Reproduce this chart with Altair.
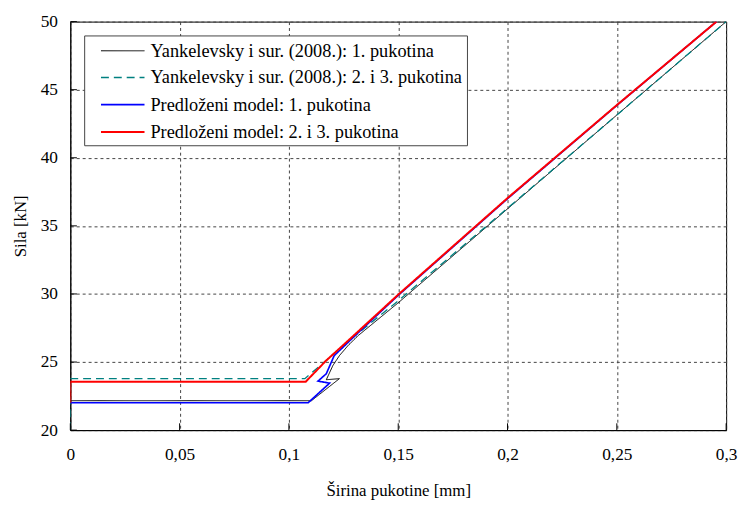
import altair as alt
import pandas as pd

# ---- data ----
series_names = [
    "Yankelevsky i sur. (2008.): 1. pukotina",
    "Yankelevsky i sur. (2008.): 2. i 3. pukotina",
    "Predloženi model: 1. pukotina",
    "Predloženi model: 2. i 3. pukotina",
]
series_colors = ["#000000", "#008080", "#0000ff", "#ff0000"]

black_x = [0, 0.1103, 0.1231, 0.1171, 0.1201, 0.1231, 0.127, 0.1315, 0.15, 0.2, 0.25, 0.3]
black_y = [22.16, 22.16, 23.78, 23.70, 24.74, 25.47, 26.2, 26.92, 29.35, 36.25, 43.14, 50]

teal_x = [0, 0, 0.1073, 0.13, 0.15, 0.2, 0.25, 0.3]
teal_y = [20, 23.78, 23.78, 26.9, 29.5, 36.3, 43.14, 50]

blue_x = [0, 0.1088, 0.1186, 0.1133, 0.1171, 0.1207, 0.13, 0.15, 0.2, 0.25, 0.2956]
blue_y = [22.01, 22.01, 23.45, 23.6, 24.14, 25.47, 26.9, 29.9, 37.0, 43.85, 50]

red_x = [0, 0, 0.1077, 0.117, 0.13, 0.15, 0.2, 0.25, 0.2956]
red_y = [22.01, 23.56, 23.56, 25.1, 27.0, 29.95, 37.04, 43.87, 50]

x_ticks = [0, 0.05, 0.1, 0.15, 0.2, 0.25, 0.3]
y_ticks = [20, 25, 30, 35, 40, 45, 50]

rows = []
for name, xs, ys in zip(series_names, [black_x, teal_x, blue_x, red_x], [black_y, teal_y, blue_y, red_y]):
    for i, (xv, yv) in enumerate(zip(xs, ys)):
        rows.append({"serija": name, "w": xv, "F": yv, "idx": i})
df = pd.DataFrame(rows)

FONT = "Liberation Serif, Times New Roman, DejaVu Serif, serif"

xscale = alt.Scale(domain=[0, 0.3], nice=False, zero=False)
yscale = alt.Scale(domain=[20, 50], nice=False, zero=False)

lines = alt.Chart(df).mark_line(clip=True, strokeCap="butt").encode(
    x=alt.X("w:Q", scale=xscale, title="Širina pukotine [mm]",
            axis=alt.Axis(values=x_ticks, labelFont=FONT, titleFont=FONT,
                          labelExpr="replace(format(datum.value, '~g'), '.', ',')")),
    y=alt.Y("F:Q", scale=yscale, title="Sila [kN]",
            axis=alt.Axis(values=y_ticks, labelFont=FONT, titleFont=FONT)),
    color=alt.Color("serija:N", scale=alt.Scale(domain=series_names, range=series_colors),
                    legend=alt.Legend(title=None)),
    strokeDash=alt.StrokeDash("serija:N",
                              scale=alt.Scale(domain=series_names,
                                              range=[[1, 0], [8, 5], [1, 0], [1, 0]]),
                              legend=alt.Legend(title=None)),
    strokeWidth=alt.StrokeWidth("serija:N",
                                scale=alt.Scale(domain=series_names, range=[1, 2, 3, 3]),
                                legend=alt.Legend(title=None)),
    detail="serija:N",
    order="idx:Q",
)

xt = pd.DataFrame({"v": x_ticks})
yt = pd.DataFrame({"v": y_ticks})
xticks = alt.Chart(xt).mark_rule(color="black", strokeWidth=1).encode(
    x=alt.X("v:Q", scale=xscale), y=alt.datum(20), y2=alt.datum(20.5))
yticks = alt.Chart(yt).mark_rule(color="black", strokeWidth=1).encode(
    y=alt.Y("v:Q", scale=yscale), x=alt.datum(0), x2=alt.datum(0.003))

chart = alt.layer(lines, xticks, yticks).properties(
    width=663, height=413,
    autosize=alt.AutoSizeParams(type="none"),
    padding={"left": 63, "top": 11, "right": 12, "bottom": 78},
).configure(
    font=FONT
).configure_view(
    stroke="black", strokeWidth=1
).configure_axis(
    labelFont=FONT, labelFontSize=17.5, labelColor="black",
    titleFont=FONT, titleFontSize=17, titleFontWeight="normal", titleColor="black",
    grid=True, gridColor="#444444", gridDash=[3, 3], gridWidth=1,
    domainColor="black", tickSize=0,
).configure_axisX(
    labelPadding=16, titlePadding=20, labelFlush=False,
).configure_axisY(
    labelPadding=13, titlePadding=11,
).configure_legend(
    orient="none", legendX=14, legendY=14,
    fillColor="white", strokeColor="#444444", padding=4,
    labelFont=FONT, labelFontSize=18.5, labelColor="black", labelLimit=450,
    symbolType="M-2,0H2", symbolSize=484, rowPadding=5.5, labelOffset=16,
    symbolOffset=23,
)

chart.save("out.html", embed_options={"renderer": "svg", "actions": False})
